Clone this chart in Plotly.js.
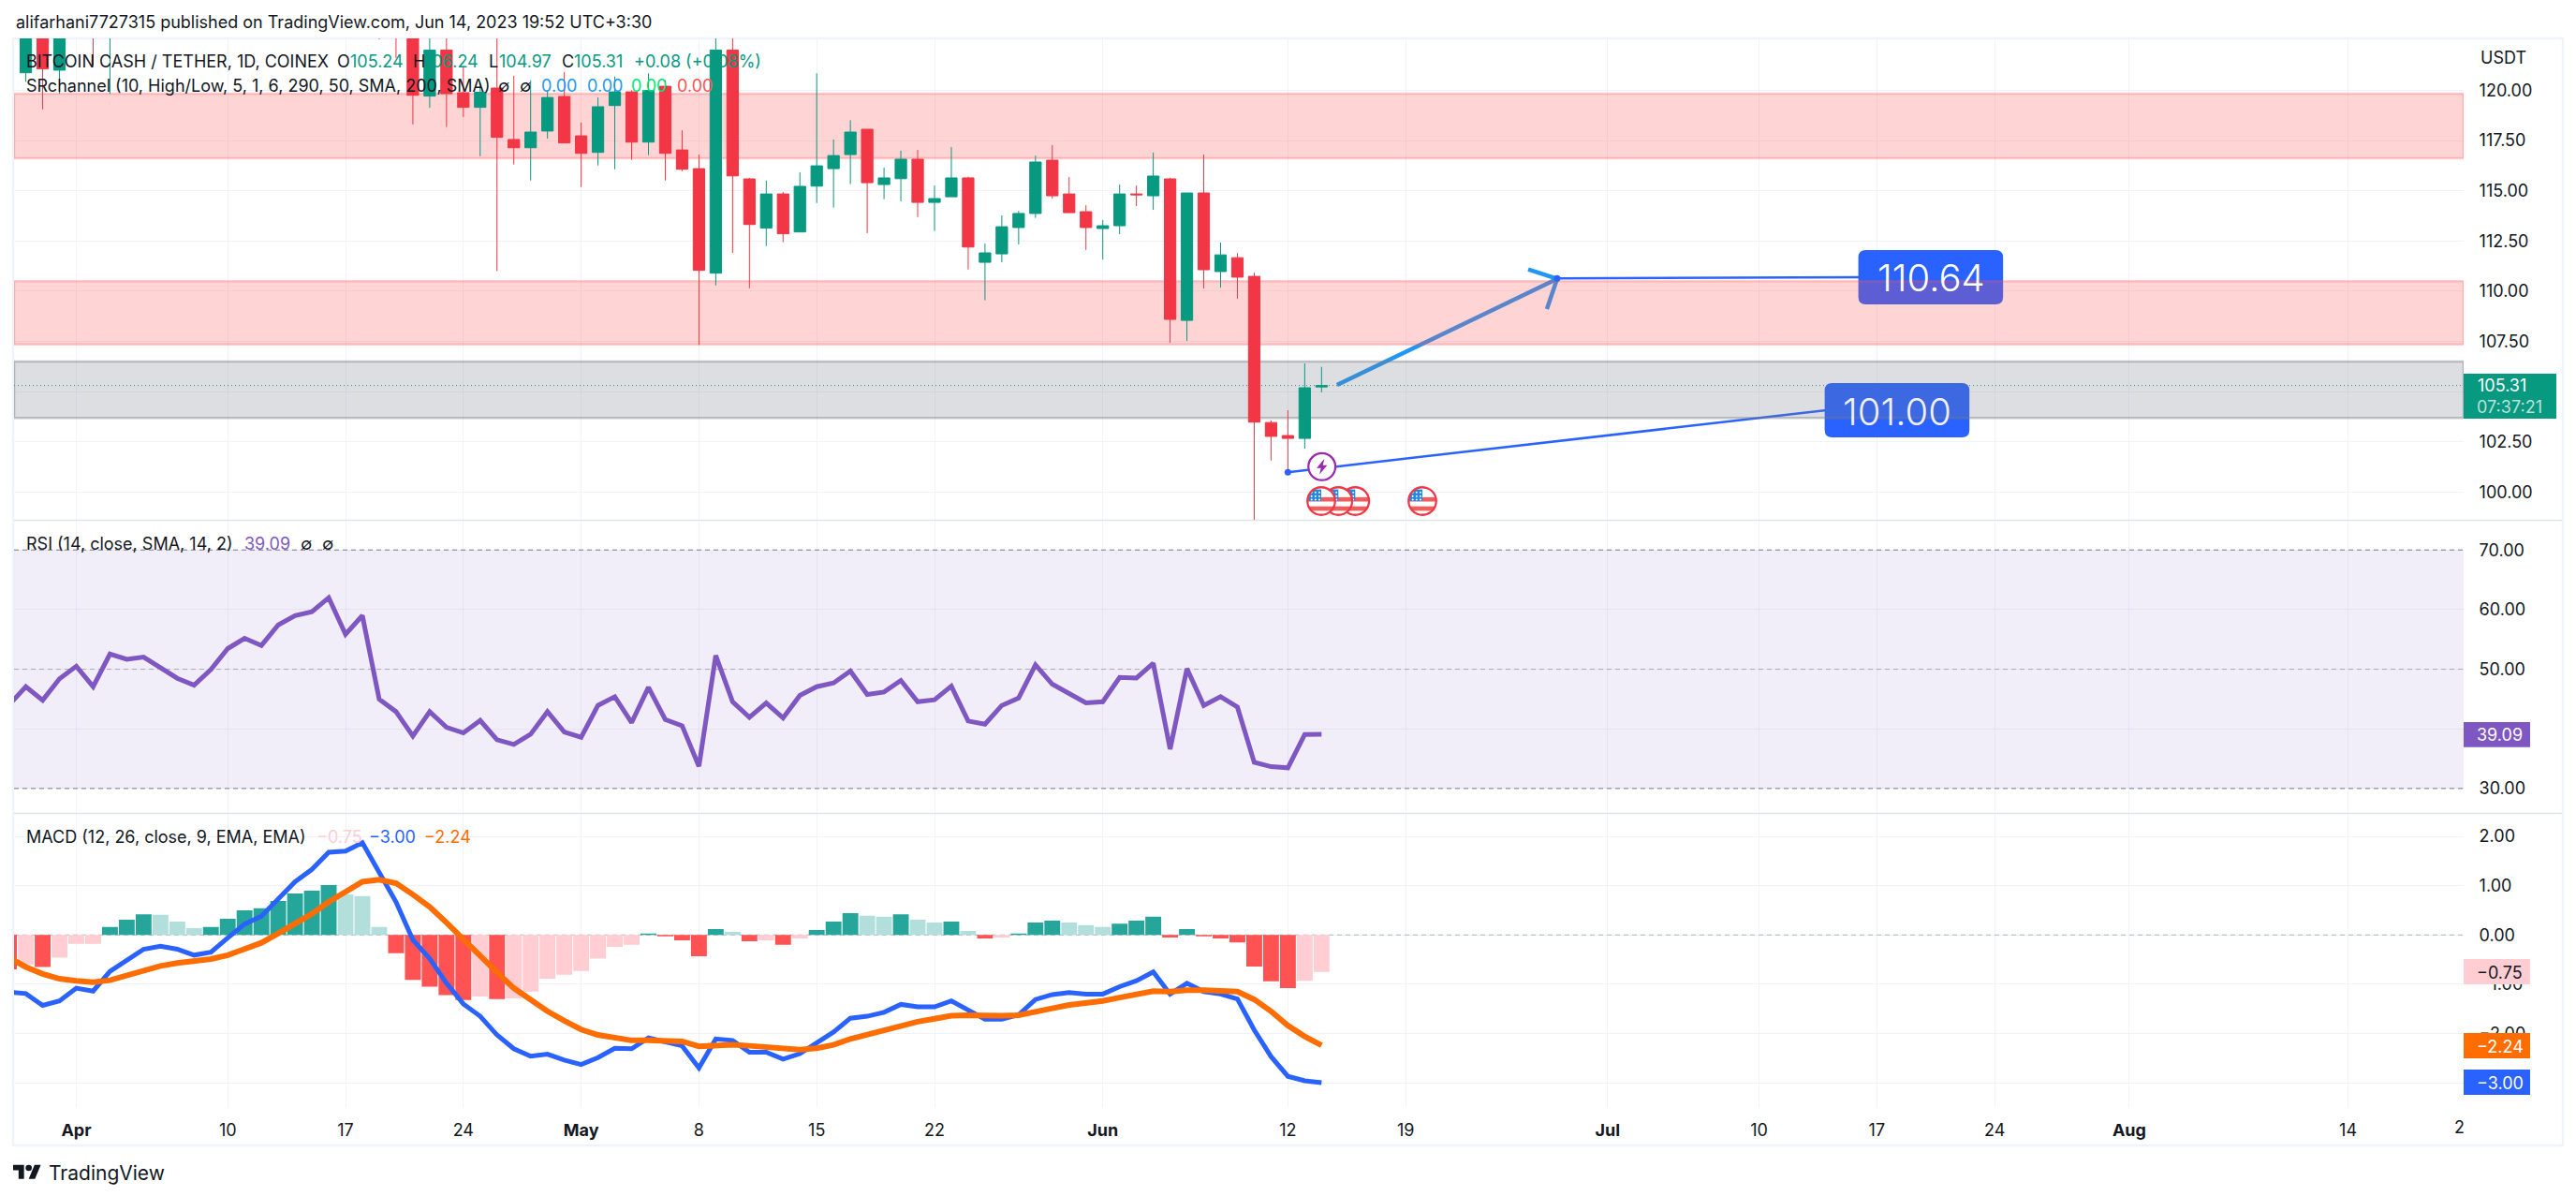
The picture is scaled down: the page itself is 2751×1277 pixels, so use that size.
<!DOCTYPE html>
<html><head><meta charset="utf-8">
<script src="https://cdn.plot.ly/plotly-3.0.1.min.js"></script>
<style>html,body{margin:0;padding:0;background:#fff}#c{width:2751px;height:1277px}</style></head>
<body><div id="c"></div>
<script>
// Day offsets are counted from 1 Apr 2023; arrays below run from offset -4 (28 Mar) to 74 (14 Jun).
const firstOffset = -4;
const opens = [null,120.87,123,121.0,null,124.5,123.5,null,null,null,null,null,null,null,null,null,null,null,null,null,null,null,
124,123.3,123,119.71,122.0,119.88,119.15,120.11,117.55,117.14,117.97,119.69,117.73,116.91,119.24,119.92,117.42,120.2,117.03,116.1,110.9,122,115.59,113.14,114.84,112.95,115.23,
116.1,116.8,118.06,115.31,115.6,116.57,114.42,114.7,115.64,111.44,111.86,113.17,113.87,116.52,114.84,113.96,113.12,113.26,114.84,114.75,115.59,108.55,114.89,110.98,111.67,110.74,103.47,102.82,102.68,105.24];
const highs = [null,123.5,123.5,123.5,null,125,125,null,null,null,null,null,null,null,null,null,null,null,null,null,null,null,
124.5,124,124,123.5,123.5,121.2,120.4,123.5,120.72,120.5,120,120.9,118.39,119.64,120.68,120,120.84,120.5,118.01,116.8,123,123,115.64,115.51,114.94,115.92,120.84,
117.55,118.51,118.06,116.15,116.99,117.03,115.26,117.17,115.7,112.37,113.77,114.0,116.75,117.27,115.68,114.28,113.54,115.31,115.26,116.9,115.65,114.89,116.8,112.42,111.9,110.93,103.57,104.08,106.41,106.24];
const lows = [null,120.42,119.05,119.83,null,121.23,119.83,null,null,null,null,null,null,null,null,null,null,null,null,null,null,null,
122.53,121.6,118.3,119.13,118.17,118.67,116.72,111.0,116.3,115.51,117.6,117.38,115.19,116.26,116.07,116.54,116.77,115.51,115.98,107.33,110.29,111.91,110.15,112.25,112.44,112.95,114.39,
114.16,115.33,112.89,114.58,114.47,113.69,113.0,114.7,111.08,109.55,111.44,112.33,113.65,114.61,113.91,112.05,111.58,112.84,114.24,114.05,107.43,107.53,110.14,110.18,109.63,98.63,101.58,101.0,102.17,104.97];
const closes = [null,123,121.06,123,null,123.5,124.5,null,null,null,null,null,null,null,null,null,null,null,null,null,null,null,
123.3,123,119.75,122.0,119.83,119.15,119.9,117.66,117.14,117.92,119.64,117.38,116.86,119.18,119.92,117.42,119.99,116.86,116.07,111.04,122.0,115.74,113.32,114.84,112.86,115.22,116.24,
116.75,117.92,115.4,115.64,116.57,114.42,114.61,115.64,112.2,111.91,113.21,113.87,116.43,114.75,113.91,113.17,113.26,114.84,114.8,115.73,108.6,114.89,111.07,111.81,110.7,103.49,102.78,102.68,105.2,105.31];
const rsi = [44.0,47.07,44.8,48.4,50.5,47.07,52.56,51.67,52.04,50.3,48.48,47.33,49.95,53.46,55.18,53.98,57.43,59.0,59.63,61.99,55.86,59.0,
44.97,42.88,38.8,42.88,40.26,39.32,41.41,38.17,37.38,39.11,42.88,39.48,38.59,43.93,45.39,41.05,46.96,41.57,40.52,33.72,52.3,44.55,41.94,44.35,41.83,45.6,47.07,47.7,49.69,45.76,46.18,48.12,44.55,44.87,47.17,41.31,40.79,43.93,45.18,50.73,47.49,45.92,44.35,44.55,48.64,48.53,51.0,36.6,50.1,43.93,45.39,43.66,34.4,33.66,33.46,39.06,39.09];
const macdHist = [-0.70,-0.60,-0.65,-0.46,-0.18,-0.18,0.16,0.31,0.42,0.41,0.27,0.14,0.16,0.33,0.50,0.54,0.69,0.84,0.90,1.01,0.82,0.79,
0.16,-0.37,-0.91,-1.05,-1.22,-1.32,-1.25,-1.30,-1.29,-1.15,-0.89,-0.81,-0.73,-0.48,-0.24,-0.20,0.03,-0.03,-0.11,-0.43,0.12,0.06,-0.13,-0.11,-0.20,-0.07,0.10,0.27,0.44,0.39,0.37,0.42,0.31,0.25,0.27,0.08,-0.07,-0.05,0.03,0.25,0.29,0.25,0.20,0.16,0.23,0.29,0.37,-0.05,0.12,-0.03,-0.07,-0.15,-0.64,-0.94,-1.08,-0.93,-0.75];
const macdLine = [-1.16,-1.19,-1.43,-1.34,-1.08,-1.14,-0.74,-0.51,-0.29,-0.23,-0.29,-0.41,-0.35,-0.06,0.22,0.38,0.73,1.08,1.33,1.68,1.70,1.87,
1.27,0.67,-0.10,-0.48,-0.98,-1.40,-1.65,-2.03,-2.31,-2.46,-2.42,-2.54,-2.63,-2.49,-2.30,-2.31,-2.09,-2.16,-2.25,-2.70,-2.11,-2.14,-2.38,-2.38,-2.52,-2.41,-2.19,-1.97,-1.69,-1.65,-1.57,-1.41,-1.46,-1.46,-1.34,-1.52,-1.71,-1.71,-1.62,-1.31,-1.21,-1.17,-1.20,-1.20,-1.05,-0.93,-0.75,-1.20,-0.98,-1.15,-1.20,-1.30,-1.93,-2.47,-2.87,-2.96,-3.00];
const signalLine = [-0.46,-0.65,-0.79,-0.89,-0.93,-0.96,-0.92,-0.82,-0.73,-0.63,-0.57,-0.54,-0.49,-0.41,-0.29,-0.16,0.03,0.22,0.43,0.67,0.87,1.08,
1.12,1.05,0.82,0.57,0.25,-0.10,-0.42,-0.76,-1.08,-1.33,-1.55,-1.74,-1.92,-2.03,-2.09,-2.14,-2.14,-2.14,-2.16,-2.26,-2.24,-2.23,-2.25,-2.27,-2.31,-2.33,-2.30,-2.23,-2.11,-2.02,-1.93,-1.84,-1.76,-1.70,-1.64,-1.63,-1.64,-1.64,-1.63,-1.57,-1.49,-1.42,-1.38,-1.34,-1.27,-1.20,-1.14,-1.15,-1.12,-1.12,-1.13,-1.15,-1.31,-1.55,-1.84,-2.06,-2.24];
const tickDates = ['2023-04-01','2023-04-10','2023-04-17','2023-04-24','2023-05-01','2023-05-08','2023-05-15','2023-05-22','2023-06-01','2023-06-12','2023-06-19','2023-07-01','2023-07-10','2023-07-17','2023-07-24','2023-08-01','2023-08-14'];
const tickLabels = ['<b>Apr</b>','10','17','24','<b>May</b>','8','15','22','<b>Jun</b>','12','19','<b>Jul</b>','10','17','24','<b>Aug</b>','14'];
const priceTicks = [100,102.5,105,107.5,110,112.5,115,117.5,120];
const rsiTicks = [30,40,50,60,70];
const macdTicks = [-3,-2,-1,0,1,2];
const resistanceZones = [[116.62,119.83],[107.35,110.5]];
const supportZone = [103.7,106.5];
const lastPrice = 105.31;
const noteAnchorDays = [72,88];
const noteAnchorPrices = [101.00,110.64];

const W=2751,H=1277,PL=15,PR=2631;
const UP='#089981',DOWN='#F23645',INK='#131722',FONT='Inter, "Noto Sans", sans-serif';
const D0=Date.UTC(2023,3,1);
const day=o=>new Date(D0+o*864e5).toISOString().slice(0,19).replace('T',' ');
const dayP=o=>day(o).replace(' ','_');
const dates=opens.map((_,i)=>day(firstOffset+i));
const xStart=day(-3.7),xEnd=day(141.87);
const xp=x=>x/W,yp=y=>1-y/H;

// Colour MACD bars by sign and direction, the way the indicator does
const histColors=macdHist.map((v,i)=>{const p=i?macdHist[i-1]:v-(v>=0?-1:1);
  return v>=0?(v>=p?'#26a69a':'#b2dfdb'):(v>=p&&i?'#ffcdd2':'#ff5252');});

const traces=[
 {type:'bar',x:dates,y:macdHist,xaxis:'x',yaxis:'y3',width:0.94*864e5,marker:{color:histColors,line:{width:0}},hoverinfo:'skip'},
 {type:'candlestick',x:dates,open:opens,high:highs,low:lows,close:closes,xaxis:'x',yaxis:'y',whiskerwidth:0,
  increasing:{line:{color:UP,width:1},fillcolor:UP},decreasing:{line:{color:DOWN,width:1},fillcolor:DOWN},hoverinfo:'skip'},
 {type:'scatter',mode:'markers',x:noteAnchorDays.map(day),y:noteAnchorPrices,xaxis:'x',yaxis:'y',marker:{color:'#2962ff',size:7},hoverinfo:'skip'},
 {type:'scatter',mode:'lines',x:dates,y:rsi,xaxis:'x',yaxis:'y2',line:{color:'#7e57c2',width:5},hoverinfo:'skip'},
 {type:'scatter',mode:'lines',x:dates,y:macdLine,xaxis:'x',yaxis:'y3',line:{color:'#2962ff',width:5},hoverinfo:'skip'},
 {type:'scatter',mode:'lines',x:dates,y:signalLine,xaxis:'x',yaxis:'y3',line:{color:'#ff6d00',width:6},hoverinfo:'skip'}
];

const bandRect=(y0,y1,yref,fill,line)=>({type:'rect',layer:'between',xref:'x',yref,x0:xStart,x1:xEnd,y0,y1,fillcolor:fill,line:line||{width:0}});
const hline=(y,yref,color,dash,w)=>({type:'line',layer:'between',xref:'x',yref,x0:xStart,x1:xEnd,y0:y,y1:y,line:{color,dash,width:w||1}});
const seg=(d0,p0,d1,p1,color,w)=>({type:'line',layer:'between',xref:'x',yref:'y',x0:day(d0),x1:day(d1),y0:p0,y1:p1,line:{color,width:w}});
function roundBox(d0,d1,p0,p1,color){
  const rx=8/17.97,ry=8/21.46;
  const a=(d,p)=>dayP(d)+','+p;
  return {type:'path',layer:'between',xref:'x',yref:'y',fillcolor:color,line:{width:0},
   path:'M'+a(d0+rx,p1)+' L'+a(d1-rx,p1)+' Q'+a(d1,p1)+' '+a(d1,p1-ry)+' L'+a(d1,p0+ry)+' Q'+a(d1,p0)+' '+a(d1-rx,p0)+
        ' L'+a(d0+rx,p0)+' Q'+a(d0,p0)+' '+a(d0,p0+ry)+' L'+a(d0,p1-ry)+' Q'+a(d0,p1)+' '+a(d0+rx,p1)+' Z'};
}
const pxRect=(x0,x1,y0,y1,fill,line,layer)=>({type:'rect',layer:layer||'above',xref:'paper',yref:'paper',x0:xp(x0),x1:xp(x1),y0:yp(y0),y1:yp(y1),fillcolor:fill,line:line||{width:0}});

const zoneLine={color:'rgba(255,82,82,0.28)',width:2.5};
const greyLine={color:'rgba(120,123,134,0.42)',width:2.5};
const shapes=[
 // outer frame and pane separators
 pxRect(14,2737,41,1223,'rgba(0,0,0,0)',{color:'#f0f3fa',width:2.5},'below'),
 {type:'line',layer:'below',xref:'paper',yref:'paper',x0:xp(15),x1:xp(2736),y0:yp(555.5),y1:yp(555.5),line:{color:'#e0e3eb',width:1.5}},
 {type:'line',layer:'below',xref:'paper',yref:'paper',x0:xp(15),x1:xp(2736),y0:yp(868.5),y1:yp(868.5),line:{color:'#e0e3eb',width:1.5}},
 // last price marker
 hline(lastPrice,'y',UP,'1px,3px',1),
 // hand-drawn trend arrow and price notes (under the zones, as in the chart)
 seg(74.92,105.34,88,110.62,'#2196f3',4.5),
 seg(86.28,111.09,88,110.62,'#2196f3',4.5),
 seg(87.39,109.11,88,110.62,'#2196f3',4.5),
 seg(88,110.64,106,110.7,'#2962ff',2.5),
 seg(72,101,104,104.08,'#2962ff',2.5),
 roundBox(105.9,114.5,109.35,112.05,'#2962ff'),
 roundBox(103.9,112.5,102.73,105.43,'#2962ff'),
 // SR zones
 bandRect(resistanceZones[0][0],resistanceZones[0][1],'y','rgba(255,82,82,0.25)',zoneLine),
 bandRect(resistanceZones[1][0],resistanceZones[1][1],'y','rgba(255,82,82,0.25)',zoneLine),
 bandRect(supportZone[0],supportZone[1],'y','rgba(120,123,134,0.25)',greyLine),
 // RSI band and levels
 bandRect(30,70,'y2','rgba(126,87,194,0.1)'),
 hline(70,'y2','#787b86','5px,4px'),hline(30,'y2','#787b86','5px,4px'),hline(50,'y2','rgba(120,123,134,0.55)','5px,4px'),
 // MACD zero
 hline(0,'y3','rgba(120,123,134,0.55)','5px,4px'),
 // right-side value tags
 pxRect(2631,2730,399,447,UP),
 pxRect(2631,2702,771,797.7,'#7e57c2'),
 pxRect(2631,2702,1024,1051,'#ffcdd2'),
 pxRect(2631,2702,1103,1130,'#ff6d00'),
 pxRect(2631,2702,1142,1169,'#2962ff')
];

const T=(text,x,y,o)=>Object.assign({text,xref:'paper',yref:'paper',x:xp(x),y:yp(y),xanchor:'left',yanchor:'middle',showarrow:false,borderpad:0,
  font:{family:FONT,size:18,color:INK}},o||{});
const col=(text,x,y,color,size)=>T(text,x,y,{font:{family:FONT,size:size||18,color}});
const annotations=[
 T('alifarhani7727315 published on TradingView.com, Jun 14, 2023 19:52 UTC+3:30',15.5,24),
 T('BITCOIN CASH / TETHER, 1D, COINEX',26.5,65),
 T('O',359,65),col('105.24',373,65,UP),T('H',440,65),col('106.24',453,65,UP),T('L',521,65),col('104.97',532,65,UP),T('C',599,65),col('105.31',612,65,UP),col('+0.08 (+0.08%)',676,65,UP),
 T('SRchannel (10, High/Low, 5, 1, 6, 290, 50, SMA, 200, SMA)',26.5,91),
 T('∅',531,91),T('∅',554,91),col('0.00',577,91,'#2196f3'),col('0.00',626,91,'#2196f3'),col('0.00',673,91,'#00e676'),col('0.00',722,91,'#ff5252'),
 T('RSI (14, close, SMA, 14, 2)',26.5,580),col('39.09',260,580,'#7e57c2'),T('∅',320,580),T('∅',343,580),
 T('MACD (12, 26, close, 9, EMA, EMA)',26.5,893),col('−0.75',337,893,'#ffcdd2'),col('−3.00',393,893,'#2962ff'),col('−2.24',452,893,'#ff6d00'),
 T('USDT',2648,61),
 col('105.31',2645,412,'#ffffff'),col('07:37:21',2644,434,'rgba(255,255,255,0.72)'),
 col('39.09',2644,784.5,'#ffffff'),col('−0.75',2644,1038,INK),col('−2.24',2644,1117,'#ffffff'),col('−3.00',2644,1156,'#ffffff'),
 T('2',2620,1203),
 T('110.64',2062,296.5,{xanchor:'center',font:{family:FONT,size:40,color:'#ffffff',weight:300}}),
 T('101.00',2026,439,{xanchor:'center',font:{family:FONT,size:40,color:'#f0f0f5',weight:300}}),
 T('TradingView',51,1252,{font:{family:FONT,size:21,color:INK}})
];

const svg=s=>'data:image/svg+xml;charset=utf-8,'+encodeURIComponent(s);
const flag=svg("<svg xmlns='http://www.w3.org/2000/svg' width='64' height='64' viewBox='0 0 32 32'><defs><clipPath id='c'><circle cx='16' cy='16' r='14'/></clipPath></defs><circle cx='16' cy='16' r='14' fill='#fff'/><g clip-path='url(#c)'><rect x='0' y='12' width='32' height='4.5' fill='#f45b5b'/><rect x='0' y='21.5' width='32' height='4.5' fill='#f45b5b'/><rect x='3' y='4' width='13' height='12' fill='#1e88e5'/><g fill='#fff'><circle cx='6' cy='7' r='1'/><circle cx='10' cy='7' r='1'/><circle cx='14' cy='7' r='1'/><circle cx='6' cy='11' r='1'/><circle cx='10' cy='11' r='1'/><circle cx='14' cy='11' r='1'/><circle cx='6' cy='14.5' r='1'/><circle cx='10' cy='14.5' r='1'/><circle cx='14' cy='14.5' r='1'/></g></g><circle cx='16' cy='16' r='14.3' fill='#fff' fill-opacity='0' stroke='#f23645' stroke-width='2.2'/></svg>");
const bolt=svg("<svg xmlns='http://www.w3.org/2000/svg' width='64' height='64' viewBox='0 0 32 32'><circle cx='16' cy='16' r='14' fill='#fff' stroke='#9c27b0' stroke-width='2.2'/><path d='M18.5 8 L10.5 17.5 L15 17.5 L13.5 24 L21.5 14.5 L17 14.5 Z' fill='#9c27b0'/></svg>");
const logo=svg("<svg xmlns='http://www.w3.org/2000/svg' width='72' height='56' viewBox='0 0 36 28'><path fill='#131722' d='M14 22H7V11H0V4h14v18zM28 22h-8l7.5-18h8L28 22z'/><circle fill='#131722' cx='20' cy='8' r='4'/></svg>");
const img=(source,cx,cy,w,h)=>({source,xref:'paper',yref:'paper',x:xp(cx-w/2),y:yp(cy-h/2),sizex:w/W,sizey:h/H,sizing:'stretch',xanchor:'left',yanchor:'top',layer:'above'});
const images=[img(flag,1519,535,33,33),img(flag,1447.3,535,33,33),img(flag,1429.3,535,33,33),img(flag,1411,535,33,33),img(bolt,1411.7,498.3,33,33),img(logo,29,1252,30,23.3)];

const yBase={side:'right',anchor:'x',showgrid:true,gridcolor:'#f0f3fa',gridwidth:1,zeroline:false,showline:false,ticks:'outside',ticklen:12,tickcolor:'rgba(0,0,0,0)',tickformat:'.2f',tickmode:'array',
  tickfont:{family:FONT,size:18,color:INK},fixedrange:true};
const layout={
 width:W,height:H,margin:{l:0,r:0,t:0,b:0,pad:0},paper_bgcolor:'#fff',plot_bgcolor:'#fff',showlegend:false,hovermode:false,dragmode:false,boxgap:0.32,boxgroupgap:0,
 xaxis:{type:'date',domain:[PL/W,PR/W],range:[xStart,xEnd],anchor:'y3',rangeslider:{visible:false},showgrid:true,gridcolor:'#f0f3fa',gridwidth:1,zeroline:false,showline:false,
  ticks:'outside',ticklen:9,tickcolor:'rgba(0,0,0,0)',tickmode:'array',tickvals:tickDates,ticktext:tickLabels,tickfont:{family:FONT,size:18,color:INK},fixedrange:true},
 yaxis:Object.assign({},yBase,{domain:[yp(555),yp(41)],range:[98.63,122.58],tickvals:priceTicks}),
 yaxis2:Object.assign({},yBase,{domain:[yp(868),yp(556)],range:[25.9,74.9],tickvals:rsiTicks}),
 yaxis3:Object.assign({},yBase,{domain:[yp(1181.7),yp(869)],range:[-3.487,2.457],tickvals:macdTicks}),
 shapes,annotations,images
};
Plotly.newPlot('c',traces,layout,{displayModeBar:false,staticPlot:true});
</script></body></html>
